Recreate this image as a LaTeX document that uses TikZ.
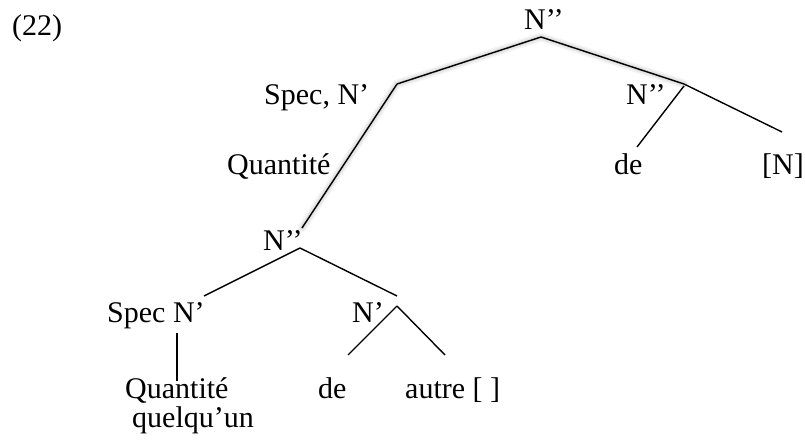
\documentclass[tikz,border=0pt]{standalone}
\usepackage{fontspec}
\setmainfont{Liberation Serif}
\begin{document}
\begin{tikzpicture}[x=1pt,y=-1pt,
  lbl/.style={anchor=base west,inner sep=0pt,font=\fontsize{30}{36}\selectfont},
  edge/.style={line width=1.4pt,black}]
\useasboundingbox (0,0) rectangle (805,443);
% junction points
\coordinate (top) at (541,37);
\coordinate (specA) at (397,84);
\coordinate (nppR) at (684,84);
\coordinate (nppRb) at (684,86);
\coordinate (deRt) at (637,147);
\coordinate (NRt) at (782,132);
\coordinate (longEnd) at (302,228);
\coordinate (low) at (300,248);
\coordinate (specB) at (204,296);
\coordinate (npB) at (397,296);
\coordinate (npBt) at (397,306);
\coordinate (deBt) at (348,355);
\coordinate (autreT) at (445,355);
\coordinate (vTop) at (177,333);
\coordinate (vBot) at (177,381);
% soft shadow
\foreach \w/\o in {9/0.04,6/0.05,3/0.06}{
  \draw[line width=\w pt,black,opacity=\o,line cap=round,line join=round,shift={(3,4)}]
    (nppR) -- (top) -- (specA) -- (longEnd);
}
% labels
\node[lbl] (ex) at (12,36) {(22)};
\node[lbl] (nTop) at (524,30) {N’’};
\node[lbl] (spec1) at (264,105) {Spec, N’};
\node[lbl] (npp2) at (626,105) {N’’};
\node[lbl] (quant1) at (227,175) {Quantité};
\node[lbl] (de1) at (614,175) {de};
\node[lbl] (nb) at (762,175) {[N]};
\node[lbl] (npp3) at (263,251) {N’’};
\node[lbl] (spec2) at (107,323) {Spec N’};
\node[lbl] (np2) at (352,323) {N’};
\node[lbl] (quant2) at (125,398) {Quantité};
\node[lbl] (de2) at (318,398) {de};
\node[lbl] (autre) at (405,398) {autre [ ]};
\node[lbl] (quelq) at (132,427) {quelqu’un};
% branches
\draw[edge] (top) -- (specA);
\draw[edge] (top) -- (nppR);
\draw[edge] (nppR) -- (NRt);
\draw[edge] (nppRb) -- (deRt);
\draw[edge] (specA) -- (longEnd);
\draw[edge] (low) -- (specB);
\draw[edge] (low) -- (npB);
\draw[edge] (npBt) -- (deBt);
\draw[edge] (npBt) -- (autreT);
\draw[edge] (vTop) -- (vBot);
\end{tikzpicture}
\end{document}
